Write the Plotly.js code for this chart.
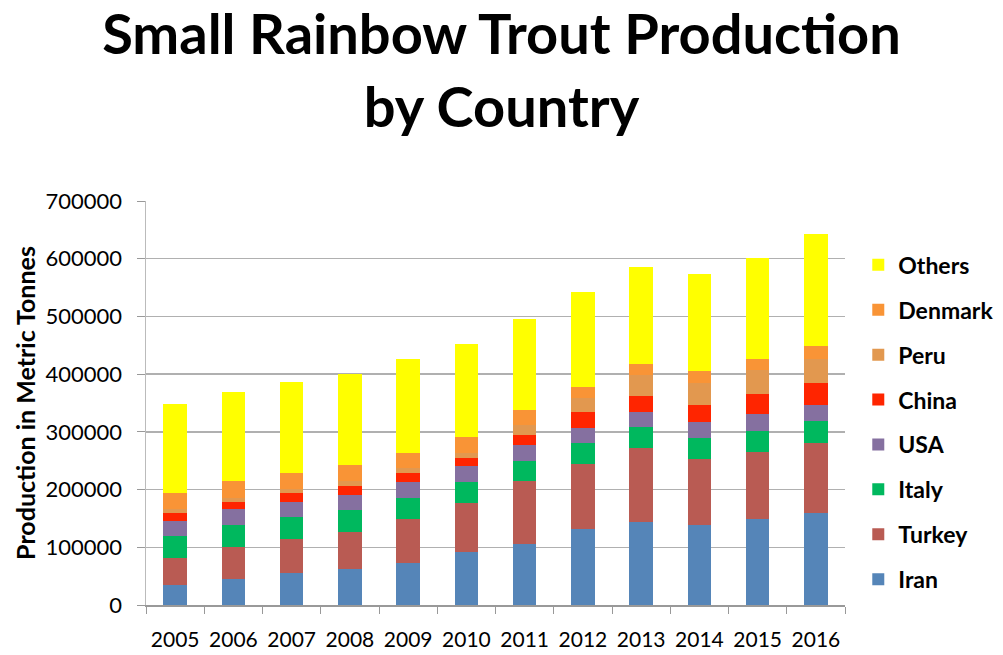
<!DOCTYPE html>
<html><head><meta charset="utf-8">
<script src="https://cdn.plot.ly/plotly-3.0.1.min.js"></script>
<style>html,body{margin:0;padding:0;background:#fff}#chart{width:1003px;height:655px}</style>
</head><body><div id="chart"></div>
<script>
const years = ["2005","2006","2007","2008","2009","2010","2011","2012","2013","2014","2015","2016"];
const iran    = [34000, 45500, 56000, 62000, 73000, 91000, 105000, 131000, 144000, 139000, 149000, 160000];
const turkey  = [48000, 55500, 58000, 65000, 76000, 85000, 109000, 114000, 128000, 114000, 116000, 120000];
const italy   = [37000, 37000, 38000, 37000, 36000, 37000, 36000, 35000, 37000, 36000, 37000, 38000];
const usa     = [26000, 28000, 27000, 27000, 28000, 28000, 28000, 27000, 25000, 28000, 29000, 29000];
const china   = [14000, 12000, 15000, 16000, 16000, 14000, 17000, 27000, 29000, 29000, 35000, 38000];
const peru    = [7500, 8000, 7000, 8000, 8000, 8000, 17000, 24000, 35000, 39000, 41000, 42000];
const denmark = [28000, 28000, 28000, 27000, 26000, 28000, 26000, 20000, 20000, 20000, 20000, 22000];
const others  = [153000, 155000, 158000, 159000, 164000, 162000, 157000, 165000, 167000, 168000, 175000, 193000];

const seriesNames = ["Iran","Turkey","Italy","USA","China","Peru","Denmark","Others"];
const seriesValues = [iran, turkey, italy, usa, china, peru, denmark, others];
const seriesColors = ["#5585B8","#B95B53","#00B85E","#8570A0","#FF2500","#E2984F","#F99436","#FFFF00"];

const traces = seriesNames.map((n,i)=>({
  type:"bar", name:n, x:years, y:seriesValues[i], legendgroup:n,
  legendrank: seriesNames.length - i,
  marker:{color:seriesColors[i], line:{width:0}},
  hoverinfo:"x+y+name"
}));

const font = "Lato, 'Open Sans', 'Liberation Sans', sans-serif";
const layout = {
  width:1003, height:655,
  paper_bgcolor:"#fff", plot_bgcolor:"#fff",
  barmode:"stack", bargap:0.6,
  margin:{l:146, r:158, t:201, b:50, autoexpand:false},
  title:{text:"<b>Small Rainbow Trout Production<br>by Country</b>", x:0.5, xanchor:"center",
         yref:"container", y:0.918, yanchor:"top",
         font:{family:font, size:56, color:"#000"}},
  xaxis:{type:"category", tickson:"boundaries", ticks:"outside", ticklen:7, tickcolor:"#999",
         showline:true, linecolor:"#999", linewidth:1.5, showgrid:false, ticklabelstandoff:15,
         tickangle:0, automargin:false,
         tickfont:{family:font, size:21, color:"#000"}},
  yaxis:{range:[0,700000], dtick:100000, tickformat:"d", showgrid:true, gridcolor:"#b0b0b0", gridwidth:1.5,
         showline:true, linecolor:"#bbb", linewidth:1.5, ticks:"outside", ticklen:8, tickcolor:"#999",
         automargin:false,
         zeroline:false, tickfont:{family:font, size:22, color:"#000"}, ticklabelstandoff:10,
         title:{text:"<b>Production in Metric Tonnes</b>", standoff:3, font:{family:font, size:25, color:"#000"}}},
  legend:{x:1.019, xanchor:"left", y:0.895, yanchor:"top", traceorder:"grouped", tracegroupgap:12,
          font:{family:font, size:23, color:"#000", weight:"bold"}, itemwidth:30},
  showlegend:true
};
Plotly.newPlot("chart", traces, layout, {displayModeBar:false, staticPlot:true});
</script></body></html>
